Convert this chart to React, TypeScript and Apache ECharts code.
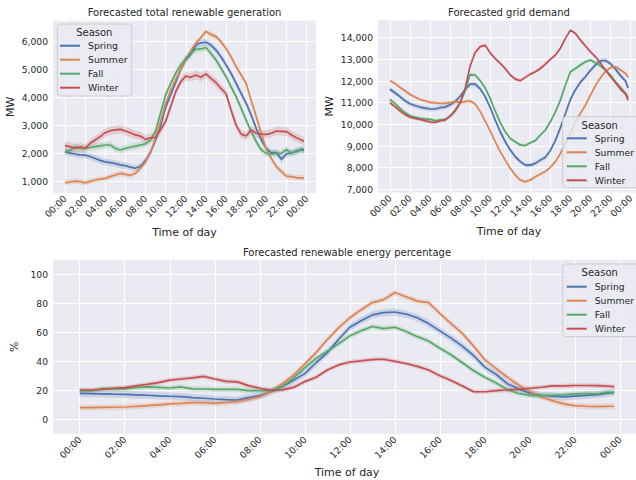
import React, { useEffect, useRef } from "react";
import * as echarts from "echarts";

// ---------- data ----------
const hours = [0, 0.5, 1, 1.5, 2, 2.5, 3, 3.5, 4, 4.5, 5, 5.5, 6, 6.5, 7, 7.5, 8, 8.5, 9, 9.5, 10, 10.5, 11, 11.5, 12, 12.5, 13, 13.5, 14, 14.5, 15, 15.5, 16, 16.5, 17, 17.5, 18, 18.5, 19, 19.5, 20, 20.5, 21, 21.5, 22, 22.5, 23, 23.5, 23.75];
const seasons = ["Spring", "Summer", "Fall", "Winter"];
const colors = ["#4C72B0", "#DD8452", "#55A868", "#C44E52"];
const bandColors = ["rgba(76,114,176,0.2)", "rgba(221,132,82,0.2)", "rgba(85,168,104,0.2)", "rgba(196,78,82,0.2)"];

// Forecasted total renewable generation (MW)
const genSpring = [2080, 2020, 1990, 1960, 1950, 1900, 1830, 1760, 1710, 1680, 1650, 1600, 1570, 1520, 1480, 1550, 1750, 2050, 2480, 3000, 3650, 4100, 4550, 4990, 5350, 5550, 5880, 5960, 5980, 5880, 5700, 5460, 5170, 4870, 4510, 4150, 3800, 3380, 2900, 2490, 2190, 2040, 2040, 1800, 1990, 2040, 2070, 2170, 2130];
const genSummer = [960, 990, 1020, 1000, 960, 1010, 1060, 1090, 1120, 1180, 1240, 1300, 1260, 1230, 1300, 1480, 1700, 2070, 2550, 3150, 3800, 4250, 4650, 5000, 5350, 5680, 5940, 6150, 6360, 6260, 6180, 6000, 5760, 5460, 5110, 4810, 4510, 3900, 3320, 2730, 2170, 1830, 1540, 1360, 1200, 1180, 1140, 1140, 1110];
const genFall = [2070, 2110, 2250, 2190, 2190, 2220, 2250, 2280, 2310, 2310, 2190, 2130, 2190, 2230, 2270, 2310, 2350, 2490, 2800, 3450, 4100, 4500, 4870, 5170, 5400, 5580, 5730, 5740, 5790, 5580, 5350, 5050, 4750, 4390, 4040, 3620, 3200, 2790, 2430, 2130, 2010, 1990, 2010, 2010, 2150, 2010, 2110, 2130, 2110];
const genWinter = [2290, 2250, 2190, 2250, 2190, 2370, 2490, 2610, 2750, 2820, 2850, 2870, 2810, 2750, 2670, 2630, 2510, 2570, 2580, 2850, 3150, 3680, 4210, 4570, 4770, 4730, 4810, 4730, 4850, 4690, 4540, 4330, 4150, 3560, 3020, 2700, 2630, 2850, 2730, 2700, 2690, 2730, 2810, 2800, 2790, 2670, 2570, 2490, 2430];
const genBand = [120, 100, 120, 150];

// Forecasted grid demand (MW)
const demSpring = [11620, 11460, 11280, 11090, 10950, 10870, 10800, 10750, 10710, 10710, 10770, 10800, 10900, 11050, 11300, 11600, 11860, 11860, 11640, 11280, 10780, 10200, 9660, 9200, 8820, 8510, 8280, 8120, 8120, 8200, 8350, 8480, 8800, 9250, 9850, 10500, 11150, 11600, 11950, 12200, 12500, 12750, 12930, 12950, 12800, 12550, 12250, 12000, 11680];
const demSummer = [12020, 11890, 11710, 11550, 11380, 11260, 11150, 11080, 11020, 10990, 10970, 10980, 11000, 11050, 11020, 11050, 11080, 10940, 10600, 10150, 9700, 9200, 8740, 8350, 7970, 7660, 7430, 7350, 7430, 7580, 7710, 7820, 8020, 8280, 8660, 9120, 9580, 10120, 10510, 10890, 11350, 11800, 12150, 12450, 12620, 12660, 12510, 12350, 12170];
const demFall = [11150, 10970, 10740, 10550, 10400, 10330, 10280, 10250, 10230, 10170, 10200, 10230, 10380, 10600, 10980, 11550, 12300, 12280, 12020, 11680, 11200, 10620, 10080, 9660, 9350, 9200, 9050, 9020, 9150, 9250, 9510, 9740, 10120, 10580, 11120, 11820, 12430, 12580, 12740, 12890, 12970, 12850, 12690, 12510, 12280, 11970, 11710, 11430, 11250];
const demWinter = [11000, 10820, 10620, 10460, 10330, 10280, 10230, 10170, 10110, 10090, 10170, 10200, 10380, 10650, 11000, 11650, 12700, 13320, 13590, 13650, 13300, 13040, 12820, 12580, 12280, 12090, 12020, 12170, 12320, 12430, 12580, 12780, 13000, 13200, 13510, 13970, 14350, 14200, 13890, 13620, 13350, 13120, 12820, 12510, 12200, 11920, 11620, 11400, 11120];
const demBand = [110, 80, 80, 80];

// Forecasted renewable energy percentage (%)
const pctSpring = [17.9, 17.7, 17.5, 17.3, 17.2, 16.9, 16.6, 16.2, 15.9, 15.6, 15.0, 14.5, 14.0, 13.6, 13.3, 15.0, 16.3, 19.1, 22.5, 27.0, 31.5, 39, 46, 55, 63.5, 68, 72, 73.6, 74, 72.5, 70, 66, 61, 56, 50.5, 44, 36, 31, 24.5, 21, 18, 16.5, 16, 15.5, 16, 16.5, 17, 18, 18.5];
const pctSummer = [8.0, 8.1, 8.2, 8.3, 8.5, 8.9, 9.4, 10.0, 10.6, 11.0, 11.5, 11.4, 11.0, 11.6, 12.4, 13.8, 15.6, 19.1, 24.5, 30.5, 38, 46, 55, 63, 70, 75.5, 80.5, 82.5, 87.4, 84.5, 81.5, 80.5, 73, 66, 59.3, 50.5, 41, 35, 29, 23.7, 19.1, 15.6, 12.9, 10.6, 9.4, 9.0, 8.8, 9.0, 9.0];
const pctFall = [19.8, 19.5, 21.2, 21.0, 21.0, 21.8, 22.3, 22.0, 21.6, 22.3, 21.0, 20.9, 20.7, 20.7, 20.6, 19.8, 19.8, 19.9, 22.5, 28.5, 35.5, 42, 47, 52, 57.5, 61, 64, 62.5, 63.5, 60.5, 57, 54, 49, 44.5, 39, 33.5, 29, 25, 20.5, 17.8, 16.5, 16.3, 16.6, 16.8, 17.6, 17.8, 17.6, 18.8, 18.5];
const pctWinter = [20.2, 20.2, 20.7, 21.4, 21.8, 23, 24.1, 25.3, 27, 27.8, 28.6, 29.6, 27.8, 26.2, 25.8, 23.2, 21.4, 20, 20.3, 22, 26, 29, 34, 37.5, 39.5, 40.3, 41.2, 41.4, 40, 38.5, 36.5, 34, 30, 26.8, 23, 19, 19, 19.8, 20.2, 20.7, 21.4, 22.1, 23, 23, 23.3, 23.3, 23.2, 22.8, 22.5];
const pctBand = [2.5, 2, 1.8, 1.6];

// tick labels
const xTicks = [0, 2, 4, 6, 8, 10, 12, 14, 16, 18, 20, 22, 24];
const genTicks = [1000, 2000, 3000, 4000, 5000, 6000];
const demTicks = [7000, 8000, 9000, 10000, 11000, 12000, 13000, 14000];
const pctTicks = [0, 20, 40, 60, 80, 100];

const titles = [
  "Forecasted total renewable generation",
  "Forecasted grid demand",
  "Forecasted renewable energy percentage",
];

// ---------- style ----------
const FONT = "DejaVu Sans";
const TXT = "#262626";
const BG = "#EAEAF2";

function fmtHour(v: number) {
  const h = Math.round(v) % 24;
  return (h < 10 ? "0" : "") + h + ":00";
}
function fmtNum(v: number) {
  return Number(v).toLocaleString("en-US");
}

function buildSeries(valsList: number[][], bands: number[], idx: number) {
  const out: any[] = [];
  valsList.forEach((vals, k) => {
    const hw = bands[k];
    const lo = vals.map((v) => v - hw);
    const hi = vals.map((v) => v + hw);
    out.push({
      type: "custom",
      name: seasons[k] + " ci" + idx,
      xAxisIndex: idx,
      yAxisIndex: idx,
      silent: true,
      clip: true,
      z: 1,
      data: hours.map((h, i) => [h, lo[i], hi[i]]),
      encode: { x: 0, y: [1, 2] },
      renderItem: (params: any, api: any) => {
        if (params.dataIndex !== 0) return { type: "group", children: [] };
        const pts: number[][] = [];
        for (let i = 0; i < hours.length; i++) pts.push(api.coord([hours[i], lo[i]]));
        for (let i = hours.length - 1; i >= 0; i--) pts.push(api.coord([hours[i], hi[i]]));
        return {
          type: "polygon",
          shape: { points: pts },
          style: { fill: bandColors[k], stroke: "none" },
        };
      },
    });
  });
  valsList.forEach((vals, k) => {
    out.push({
      type: "line",
      name: seasons[k],
      xAxisIndex: idx,
      yAxisIndex: idx,
      data: hours.map((h, i) => [h, vals[i]]),
      symbol: "none",
      lineStyle: { color: colors[k], width: 1.7 },
      itemStyle: { color: colors[k] },
      z: 2,
    });
  });
  return out;
}

function legendBlock(boxX: number, boxY: number, boxW: number, boxH: number) {
  return [
    {
      type: "rect",
      shape: { x: boxX, y: boxY, width: boxW, height: boxH, r: 3 },
      style: { fill: "rgba(234,234,242,0.8)", stroke: "#cccccc", lineWidth: 1 },
      z: 3,
      silent: true,
    },
    {
      type: "text",
      x: boxX + 37,
      y: boxY + 8.5,
      style: {
        text: "Season",
        fill: TXT,
        font: `10px '${FONT}'`,
        align: "center",
        verticalAlign: "middle",
      },
      z: 5,
      silent: true,
    },
  ];
}

function legendComp(left: number, top: number) {
  return {
    data: seasons,
    orient: "vertical",
    left,
    top,
    icon: "rect",
    itemWidth: 20,
    itemHeight: 2,
    itemGap: 0,
    selectedMode: false,
    padding: 0,
    textStyle: { fontFamily: FONT, fontSize: 9.3, color: TXT, lineHeight: 14, padding: [0, 0, 0, 3] },
    z: 6,
  };
}

function xAxisCfg(idx: number, nameGap: number) {
  return {
    type: "value",
    gridIndex: idx,
    min: -1.1875,
    max: 24.9375,
    name: "Time of day",
    nameLocation: "middle",
    nameGap,
    nameTextStyle: { fontFamily: FONT, fontSize: 11, color: TXT },
    axisLine: { show: false },
    axisTick: { show: false, customValues: xTicks },
    axisLabel: {
      customValues: xTicks,
      formatter: fmtHour,
      rotate: 45,
      margin: 4,
      fontFamily: FONT,
      fontSize: 9.2,
      color: TXT,
    },
    splitLine: { show: true, lineStyle: { color: "#ffffff", width: 1 } },
  };
}

function yAxisCfg(idx: number, min: number, max: number, ticks: number[], name: string, nameGap: number, fmt: any) {
  return {
    type: "value",
    gridIndex: idx,
    min,
    max,
    name,
    nameLocation: "middle",
    nameGap,
    nameRotate: 90,
    nameTextStyle: { fontFamily: FONT, fontSize: 11, color: TXT },
    axisLine: { show: false },
    axisTick: { show: false, customValues: ticks },
    axisLabel: { customValues: ticks, formatter: fmt, margin: 5, fontFamily: FONT, fontSize: 9.2, color: TXT },
    splitLine: { show: true, lineStyle: { color: "#ffffff", width: 1 } },
  };
}

export default function App() {
  const ref = useRef<HTMLDivElement>(null);

  useEffect(() => {
    if (!ref.current) return;
    const chart = echarts.init(ref.current, undefined, { renderer: "svg" });

    const gridBase = { show: true, backgroundColor: BG, borderWidth: 0, containLabel: false, outerBoundsMode: "none" };

    const option: any = {
      animation: false,
      textStyle: { fontFamily: FONT },
      title: [
        { text: titles[0], left: 184.5, top: 7.5, textAlign: "center", padding: 0, textStyle: { fontFamily: FONT, fontSize: 10, fontWeight: "normal", color: TXT } },
        { text: titles[1], left: 509, top: 7.5, textAlign: "center", padding: 0, textStyle: { fontFamily: FONT, fontSize: 10, fontWeight: "normal", color: TXT } },
        { text: titles[2], left: 347, top: 247, textAlign: "center", padding: 0, textStyle: { fontFamily: FONT, fontSize: 10, fontWeight: "normal", color: TXT } },
      ],
      grid: [
        { ...gridBase, left: 53, top: 20.8, width: 263, height: 172.1 },
        { ...gridBase, left: 378, top: 20.4, width: 262, height: 172 },
        { ...gridBase, left: 53, top: 259.8, width: 588, height: 174 },
      ],
      xAxis: [xAxisCfg(0, 34), xAxisCfg(1, 34), xAxisCfg(2, 33)],
      yAxis: [
        yAxisCfg(0, 600, 6745, genTicks, "MW", 37, fmtNum),
        yAxisCfg(1, 6860, 14800, demTicks, "MW", 43, fmtNum),
        yAxisCfg(2, -10, 110, pctTicks, "%", 27, (v: number) => String(v)),
      ],
      legend: [legendComp(60, 38.7), legendComp(566.7, 131.3), legendComp(566.7, 279.7)],
      graphic: [
        ...legendBlock(57.3, 24, 74.4, 72),
        ...legendBlock(562.7, 116.7, 80, 71),
        ...legendBlock(562.7, 264, 80, 72.7),
      ],
      series: [
        ...buildSeries([genSpring, genSummer, genFall, genWinter], genBand, 0),
        ...buildSeries([demSpring, demSummer, demFall, demWinter], demBand, 1),
        ...buildSeries([pctSpring, pctSummer, pctFall, pctWinter], pctBand, 2),
      ],
    };

    chart.setOption(option);
    return () => chart.dispose();
  }, []);

  return (
    <div
      ref={ref}
      style={{ position: "fixed", left: 0, top: 0, width: 636, height: 480, background: "#ffffff" }}
    />
  );
}
